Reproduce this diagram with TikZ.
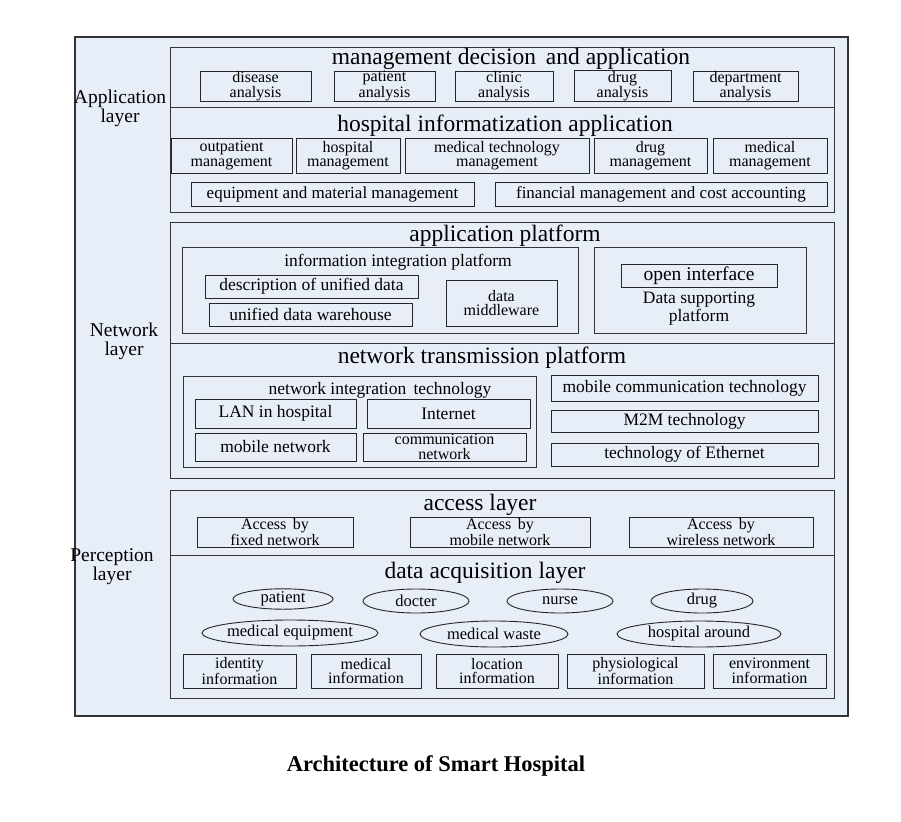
\documentclass[tikz,border=0pt]{standalone}
\usepackage{fontspec}
\setmainfont{Liberation Serif}
\usetikzlibrary{shapes.geometric}
\definecolor{bgc}{HTML}{E8EEF8}
\tikzset{
 bx/.style={draw=black!85,line width=0.9pt,inner sep=0pt,align=center,font=\fontsize{16}{14.5}\selectfont},
 blk/.style={draw=black!80,line width=0.9pt},
 hd/.style={font=\fontsize{23.5}{25}\selectfont,inner sep=0pt},
 sub/.style={font=\fontsize{17.5}{18}\selectfont,inner sep=0pt},
 side/.style={font=\fontsize{19.5}{19}\selectfont,align=center,inner sep=0pt},
 el/.style={draw=black!85,line width=0.9pt,ellipse,inner sep=0pt,font=\fontsize{16.5}{17}\selectfont},
}
\newcommand{\bxn}[6]{\node[bx,minimum width={#4-#2},minimum height={#5-#3}] (#1) at ({(#2+#4)/2},{(#3+#5)/2}) {#6};}
\begin{document}
\begin{tikzpicture}[x=1pt,y=-1pt]
\useasboundingbox (0,0) rectangle (901,821);
\draw[blk,fill=bgc,line width=1.2pt] (75,37) rectangle (848,716);
% application
\draw[blk] (170,47) rectangle (834,212);
\draw[blk] (170,107) -- (834,107);
\node[hd] (h1) at (511,59) {management decision\, and application};
\bxn{a1}{200}{71}{311}{101}{disease\\analysis}
\bxn{a2}{334}{71}{435}{101}{patient\\analysis}
\bxn{a3}{455}{71}{553}{101}{clinic\\analysis}
\bxn{a4}{574}{71}{671}{101}{drug\\analysis}
\bxn{a5}{693}{71}{798}{101}{department\\analysis}
\node[hd] (h2) at (505,126) {hospital informatization application};
\bxn{b1}{171}{138}{292}{173}{outpatient\\management}
\bxn{b2}{296}{138}{400}{173}{hospital\\management}
\bxn{b3}{405}{138}{589}{173}{medical technology\\management}
\bxn{b4}{594}{138}{707}{173}{drug\\management}
\bxn{b5}{713}{138}{827}{173}{medical\\management}
\bxn{b6}{191}{182}{474}{206}{\fontsize{17}{17}\selectfont equipment and material management}
\bxn{b7}{495}{182}{827}{206}{\fontsize{17}{17}\selectfont financial management and cost accounting}
\node[side] (s1) at (120,108) {Application\\layer};
% network
\draw[blk] (170,222) rectangle (834,478);
\draw[blk] (170,343) -- (834,343);
\node[hd] (h3) at (505,236) {application platform};
\draw[blk] (182,247) rectangle (578,333);
\node[sub] (t1) at (398,262) {information integration platform};
\bxn{c1}{205}{275}{418}{298}{\fontsize{17.5}{18}\selectfont description of unified data}
\bxn{c2}{209}{303}{412}{326}{\fontsize{17.5}{18}\selectfont unified data warehouse}
\bxn{c3}{446}{280}{557}{326}{data\\middleware}
\draw[blk] (594,247) rectangle (806,333);
\bxn{c4}{621}{264}{777}{287}{\fontsize{19.5}{20}\selectfont open interface}
\node[sub,align=center] (t2) at (699,309) {Data supporting\\platform};
\node[hd] (h4) at (482,358) {network transmission platform};
\draw[blk] (183,376) rectangle (536,467);
\node[sub] (t3) at (380,390) {network integration\, technology};
\bxn{d1}{195}{399}{356}{428}{\fontsize{17.5}{18}\selectfont LAN in hospital}
\bxn{d2}{367}{399}{530}{428}{\fontsize{17.5}{18}\selectfont Internet}
\bxn{d3}{195}{433}{356}{461}{\fontsize{17.5}{18}\selectfont mobile network}
\bxn{d4}{363}{433}{526}{461}{communication\\network}
\bxn{d5}{551}{375}{818}{401}{\fontsize{17.5}{18}\selectfont mobile communication technology}
\bxn{d6}{551}{410}{818}{432}{\fontsize{17.5}{18}\selectfont M2M technology}
\bxn{d7}{551}{443}{818}{466}{\fontsize{17.5}{18}\selectfont technology of Ethernet}
\node[side] (s2) at (124,341) {Network\\layer};
% perception
\draw[blk] (170,490) rectangle (834,698);
\draw[blk] (170,555) -- (834,555);
\node[hd] (h5) at (480,505) {access layer};
\bxn{e1}{197}{517}{353}{547}{Access\, by\\fixed network}
\bxn{e2}{410}{517}{590}{547}{Access\, by\\mobile network}
\bxn{e3}{629}{517}{813}{547}{Access\, by\\wireless network}
\node[hd] (h6) at (485,573) {data acquisition layer};
\node[el,minimum width=100,minimum height=20] (f1) at (283,599) {patient};
\node[el,minimum width=106,minimum height=24] (f2) at (416,601) {docter};
\node[el,minimum width=106,minimum height=24] (f3) at (560,601) {nurse};
\node[el,minimum width=102,minimum height=24] (f4) at (702,601) {drug};
\node[el,minimum width=176,minimum height=26,inner xsep=-14pt] (g1) at (290,633) {medical equipment};
\node[el,minimum width=148,minimum height=26,inner xsep=-12pt] (g2) at (494,634) {medical waste};
\node[el,minimum width=164,minimum height=26,inner xsep=-12pt] (g3) at (699,634) {hospital around};
\bxn{k1}{183}{654}{296}{688}{identity\\information}
\bxn{k2}{311}{654}{421}{688}{medical\\information}
\bxn{k3}{436}{654}{558}{688}{location\\information}
\bxn{k4}{567}{654}{704}{688}{physiological\\information}
\bxn{k5}{713}{654}{826}{688}{environment\\information}
\node[side] (s3) at (112,567) {Perception\\layer};
\node[font=\bfseries\fontsize{22.5}{24}\selectfont] (cap) at (436,766) {Architecture of Smart Hospital};
\end{tikzpicture}
\end{document}
